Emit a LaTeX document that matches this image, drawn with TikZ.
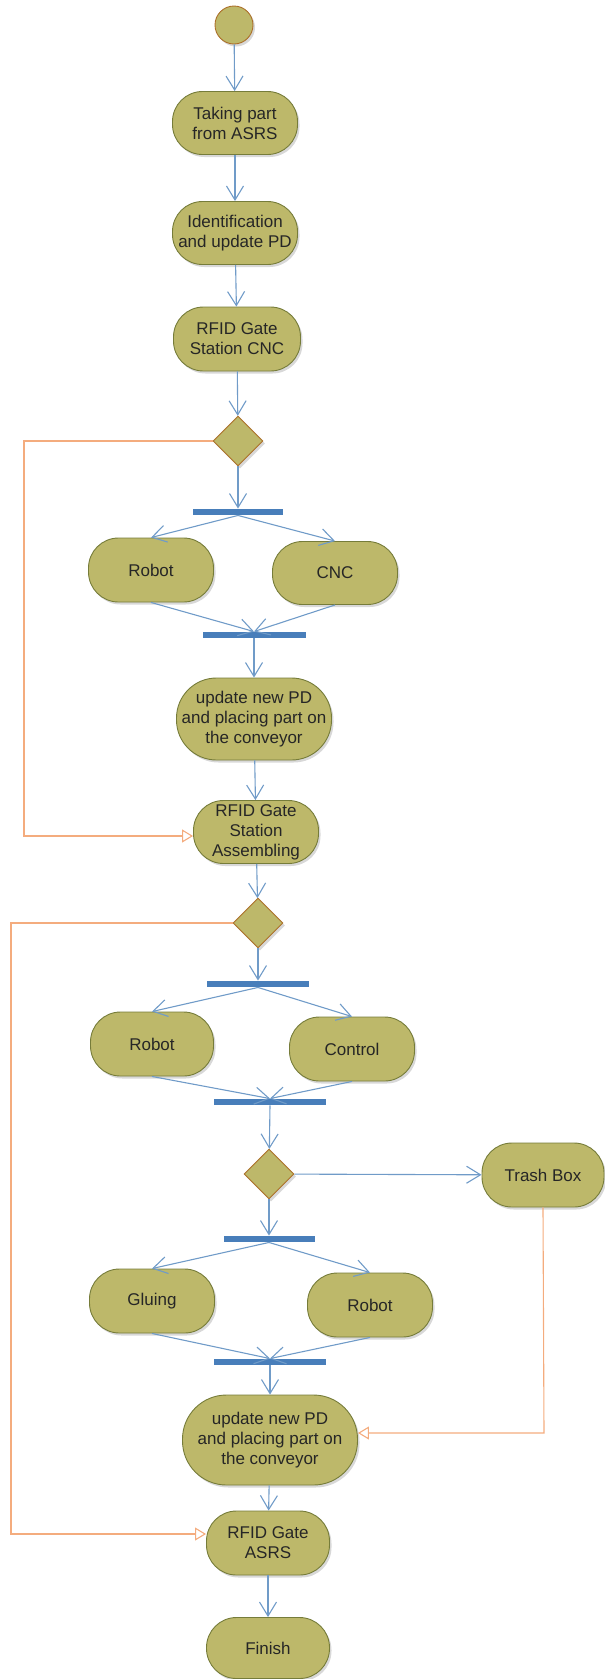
\documentclass[tikz,border=0pt]{standalone}
\usepackage{fontspec}
\setmainfont{Liberation Sans}
\usetikzlibrary{arrows.meta,shadows,shapes.geometric}
\definecolor{actfill}{RGB}{189,184,106}
\definecolor{actedge}{RGB}{118,124,58}
\definecolor{decedge}{RGB}{172,112,42}
\definecolor{flow}{RGB}{112,155,200}
\definecolor{barblue}{RGB}{72,126,186}
\definecolor{guard}{RGB}{244,172,126}
\begin{document}
\begin{tikzpicture}[x=1pt,y=-1pt,
  softshadow/.style={drop shadow={shadow xshift=2pt, shadow yshift=-2.5pt, opacity=0.22, fill=black!70}},
  act/.style={rectangle, rounded corners=30pt, draw=actedge, fill=actfill, line width=0.9pt,
    align=center, inner sep=1pt, text=black!85, font=\fontsize{17}{20}\selectfont,
    minimum width=125pt, minimum height=63pt, softshadow},
  bigact/.style={act, rounded corners=40pt, minimum height=84pt},
  dec/.style={diamond, draw=decedge, fill=actfill, line width=0.9pt,
    minimum width=50pt, minimum height=50pt, inner sep=0pt, softshadow},
  startnode/.style={circle, draw=decedge, fill=actfill, line width=0.9pt,
    minimum size=38pt, inner sep=0pt, softshadow},
  bar/.style={rectangle, fill=barblue, inner sep=0pt, minimum height=6.5pt},
  flowline/.style={draw=flow, line width=1.1pt, -{Straight Barb[length=14pt,width=17pt]}},
  guardline/.style={draw=guard, line width=1.1pt, -{Triangle[open, length=11pt, width=13pt, fill=white]}}
]
\useasboundingbox (0,0) rectangle (605,1679);

% ---- machining stage ----
\node[startnode] (start) at (234,25) {};
\node[act] (take)  at (235,123) {Taking part\\from ASRS};
\node[act] (ident) at (235,233) {Identification\\and update PD};
\node[act, minimum width=127pt, minimum height=64pt] (rfid1) at (237,339) {RFID Gate\\Station CNC};
\node[dec] (dec1) at (238,441) {};
\node[bar, minimum width=90pt] (fork1) at (238,512) {};
\node[act, minimum height=64pt] (robot1) at (151,570) {Robot};
\node[act] (cnc) at (335,573) {CNC};
\node[bar, minimum width=103pt] (join1) at (254,635) {};
\node[bigact, minimum width=155pt, minimum height=82pt] (upd1) at (254,719) {update new PD\\and placing part on\\the conveyor};
\node[act] (rfid2) at (256,832) {RFID Gate\\Station\\Assembling};

% ---- assembling stage ----
\node[dec] (dec2) at (258,923) {};
\node[bar, minimum width=102pt] (fork2) at (258,984) {};
\node[act, minimum width=123pt, minimum height=64pt] (robot2) at (152,1044) {Robot};
\node[act, minimum height=64pt] (control) at (352,1049) {Control};
\node[bar, minimum width=112pt] (join2) at (270,1102) {};
\node[dec] (dec3) at (269,1174) {};
\node[act, minimum width=122pt, minimum height=64pt] (trash) at (543,1175) {Trash Box};
\node[bar, minimum width=91pt] (fork3) at (269,1239) {};
\node[act, minimum height=64pt] (gluing) at (152,1301) {Gluing};
\node[act, minimum height=64pt] (robot3) at (370,1305) {Robot};
\node[bar, minimum width=112pt] (join3) at (270,1362) {};
\node[bigact, minimum width=175pt, minimum height=90pt, rounded corners=44pt] (upd2) at (270,1440) {update new PD\\and placing part on\\the conveyor};
\node[act, minimum width=123pt, minimum height=64pt] (rfid3) at (268,1543) {RFID Gate\\ASRS};
\node[act, minimum width=123pt, minimum height=61pt] (finish) at (268,1648) {Finish};

% bypass rails
\coordinate (railA) at (24,0);
\coordinate (railB) at (11,0);
\coordinate (railC) at (544,1433);

% ---- control flow ----
\draw[flowline] (start) -- (take);
\draw[flowline] (take) -- (ident);
\draw[flowline] (ident) -- (rfid1);
\draw[flowline] (rfid1) -- (dec1);
\draw[flowline] (dec1) -- (fork1.north);
\draw[flowline] (fork1.south) -- (robot1.north);
\draw[flowline] (fork1.south) -- (cnc.north);
\draw[flowline] (robot1.south) -- (join1.north);
\draw[flowline] (cnc.south) -- (join1.north);
\draw[flowline] (join1.south) -- (upd1.north);
\draw[flowline] (upd1) -- (rfid2);
\draw[flowline] (rfid2) -- (dec2);
\draw[flowline] (dec2) -- (fork2.north);
\draw[flowline] (fork2.south) -- (robot2.north);
\draw[flowline] (fork2.south) -- (control.north);
\draw[flowline] (robot2.south) -- (join2.north);
\draw[flowline] (control.south) -- (join2.north);
\draw[flowline] (join2.south) -- (dec3);
\draw[flowline] (dec3) -- (trash);
\draw[flowline] (dec3) -- (fork3.north);
\draw[flowline] (fork3.south) -- (gluing.north);
\draw[flowline] (fork3.south) -- (robot3.north);
\draw[flowline] (gluing.south) -- (join3.north);
\draw[flowline] (robot3.south) -- (join3.north);
\draw[flowline] (join3.south) -- (upd2.north);
\draw[flowline] (upd2) -- (rfid3);
\draw[flowline] (rfid3) -- (finish);

% ---- alternative paths ----
\draw[guardline] (dec1.west) -- (dec1.west -| railA) |- ([yshift=-4pt]rfid2.west);
\draw[guardline] (dec2.west) -- (dec2.west -| railB) |- ([yshift=9pt]rfid3.west);
\draw[guardline] (trash.south) -- (railC) -- (railC -| upd2.east);
\end{tikzpicture}
\end{document}
